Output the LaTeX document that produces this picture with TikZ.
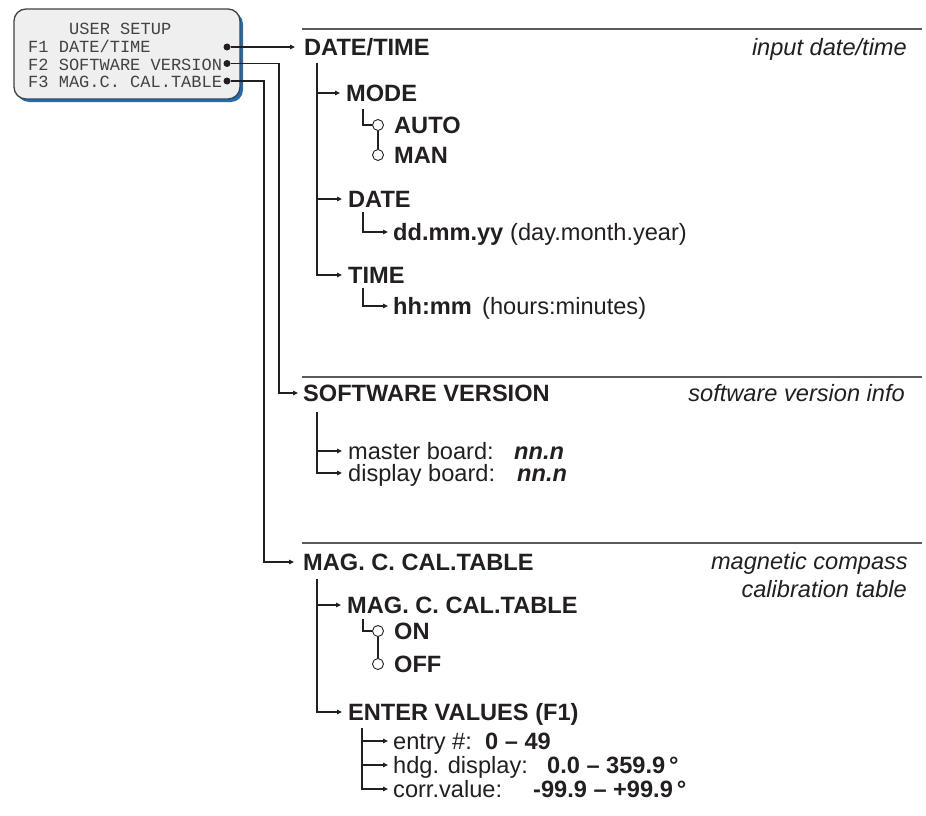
\documentclass[tikz,border=0pt]{standalone}
\usepackage{fontspec}
\setmainfont{Liberation Sans}
\newfontfamily\lcdfont{Liberation Mono}
\usetikzlibrary{arrows.meta}
\definecolor{ink}{HTML}{231F20}
\definecolor{lcdblue}{HTML}{1F6DB5}
\definecolor{lcdgray}{HTML}{EFEFEF}
\definecolor{rulegray}{HTML}{5A5A5A}
\begin{document}
\begin{tikzpicture}[x=1pt,y=-1pt,
 conn/.style={line width=1.1pt, draw=ink},
 arr/.style={conn, -{Triangle[length=5pt,width=4.5pt]}},
 hd/.style={anchor=west, inner sep=0pt, text height=17pt, text depth=0pt, font=\fontsize{23.6}{26}\selectfont\bfseries, text=ink},
 hdi/.style={hd, font=\fontsize{23.6}{26}\selectfont\bfseries\itshape},
 tx/.style={anchor=west, inner sep=0pt, text height=17pt, text depth=0pt, font=\fontsize{23.6}{26}\selectfont, text=ink},
 note/.style={anchor=base east, inner sep=0pt, font=\fontsize{23.6}{26}\selectfont\itshape, text=ink},
 lcd/.style={anchor=base west, inner sep=0pt, font=\lcdfont\fontsize{17}{17}\selectfont, text=ink!85},
 rule/.style={line width=1.3pt, draw=rulegray},
 knob/.style={circle, draw=ink, fill=white, line width=0.9pt, minimum size=11pt, inner sep=0pt},
 dot/.style={circle, fill=ink, minimum size=7pt, inner sep=0pt}
]
\useasboundingbox (0,0) rectangle (926,816);

% LCD box
\fill[lcdblue, rounded corners=12pt] (17,12) rectangle (243,102);
\draw[fill=lcdgray, draw=ink!85, line width=1.3pt, rounded corners=12pt] (14,9) rectangle (240,99);
\node[lcd] (l0) at (69,35) {USER SETUP};
\node[lcd] (l1) at (28,52.5) {F1 DATE/TIME};
\node[lcd] (l2) at (28,70.5) {F2 SOFTWARE VERSION};
\node[lcd] (l3) at (28,88) {F3 MAG.C. CAL.TABLE};
\node[dot] (d1) at (227,47) {};
\node[dot] (d2) at (227,63.5) {};
\node[dot] (d3) at (227,81) {};

% rules
\draw[rule] (302,29) -- (922,29);
\draw[rule] (302,377) -- (922,377);
\draw[rule] (302,543) -- (922,543);

% DATE/TIME section
\node[hd] (dt) at (304,47) {DATE/TIME};
\node[note] (dtn) at (907,55.5) {input date/time};
\node[hd] (mode) at (346,93) {MODE};
\node[knob] (k1) at (378,125) {};
\node[knob] (k2) at (378,155) {};
\node[hd] (auto) at (394,125) {AUTO};
\node[hd] (man) at (394,155) {MAN};
\node[hd] (date) at (348,199) {DATE};
\node[hd] (ddmm) at (393,232) {dd.mm.yy};
\node[tx] (dmy) at (510,232) {(day.month.year)};
\node[hd] (time) at (348,275) {TIME};
\node[hd] (hhmm) at (393,306) {hh:mm};
\node[tx] (hm) at (482,306) {(hours:minutes)};

% SOFTWARE VERSION section
\node[hd] (sw) at (303,393) {SOFTWARE VERSION};
\node[note] (swn) at (905,401.5) {software version info};
\node[tx] (mb) at (348,451) {master board:};
\node[hdi] (mbv) at (514,451) {nn.n};
\node[tx] (db) at (348,473) {display board:};
\node[hdi] (dbv) at (517,473) {nn.n};

% MAG section
\node[hd] (mag) at (303,562) {MAG. C. CAL.TABLE};
\node[note] (magn1) at (908,569) {magnetic compass};
\node[note] (magn2) at (907,597) {calibration table};
\node[hd] (mag2) at (347,605) {MAG. C. CAL.TABLE};
\node[knob] (k3) at (378,631) {};
\node[knob] (k4) at (378,664) {};
\node[hd] (on) at (394,631) {ON};
\node[hd] (off) at (394,664) {OFF};
\node[hd] (ent) at (348,712) {ENTER VALUES (F1)};
\node[tx] (e1) at (393,741) {entry \#:};
\node[hd] (e1v) at (485,741) {0 – 49};
\node[tx] (e2) at (393,765) {hdg. display:};
\node[hd] (e2v) at (547,765) {0.0 – 359.9\,°};
\node[tx] (e3) at (393,789) {corr.value:};
\node[hd] (e3v) at (533,789) {-99.9 – +99.9\,°};

% coordinates of vertical lines
\coordinate (v2) at (279,0);
\coordinate (v3) at (264,0);
\coordinate (t1) at (317,63);
\coordinate (t2) at (363,109);
\coordinate (t3) at (363,212);
\coordinate (t4) at (363,288);
\coordinate (t5) at (317,412);
\coordinate (t6) at (317,579);
\coordinate (t7) at (363,619);
\coordinate (t8) at (362,728);

% main connectors
\draw[arr] (d1) -- ([xshift=-9pt]dt.west);
\draw[arr] (d2) -| (v2 |- sw.west) -- ([xshift=-5pt]sw.west);
\draw[arr] (d3) -| (v3 |- mag.west) -- ([xshift=-9pt]mag.west);

% DATE/TIME tree
\draw[arr] (t1) |- ([xshift=-6pt]time.west);
\draw[arr] (t1 |- mode.west) -- ([xshift=-6pt]mode.west);
\draw[arr] (t1 |- date.west) -- ([xshift=-6pt]date.west);
\draw[conn] (t2) |- (k1.west);
\draw[conn] (k1.south) -- (k2.north);
\draw[arr] (t3) |- ([xshift=-5pt]ddmm.west);
\draw[arr] (t4) |- ([xshift=-5pt]hhmm.west);

% SOFTWARE VERSION tree
\draw[arr] (t5) |- ([xshift=-6pt]db.west);
\draw[arr] (t5 |- mb.west) -- ([xshift=-6pt]mb.west);

% MAG tree
\draw[arr] (t6) |- ([xshift=-6pt]ent.west);
\draw[arr] (t6 |- mag2.west) -- ([xshift=-6pt]mag2.west);
\draw[conn] (t7) |- (k3.west);
\draw[conn] (k3.south) -- (k4.north);
\draw[arr] (t8) |- ([xshift=-5pt]e3.west);
\draw[arr] (t8 |- e1.west) -- ([xshift=-5pt]e1.west);
\draw[arr] (t8 |- e2.west) -- ([xshift=-5pt]e2.west);
\end{tikzpicture}
\end{document}
